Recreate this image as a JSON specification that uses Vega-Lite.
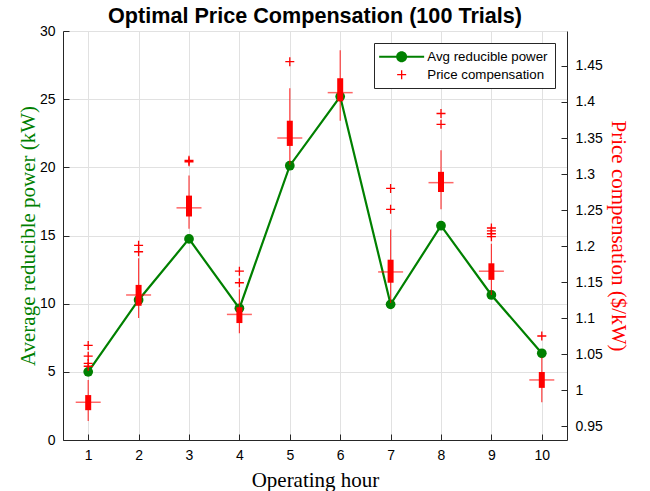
{
  "$schema": "https://vega.github.io/schema/vega-lite/v6.json",
  "width": 504,
  "height": 409,
  "autosize": {"type": "none"},
  "padding": {"left": 63, "top": 31, "right": 83, "bottom": 51},
  "background": "white",
  "title": {"text": "Optimal Price Compensation (100 Trials)", "font": "Liberation Sans", "fontSize": 21.6, "fontWeight": "bold", "color": "#000000", "offset": -4, "anchor": "middle"},
  "datasets": {
    "power": [
      {"hour": 1, "power": 5.0},
      {"hour": 2, "power": 10.27},
      {"hour": 3, "power": 14.75},
      {"hour": 4, "power": 9.66},
      {"hour": 5, "power": 20.12},
      {"hour": 6, "power": 25.19},
      {"hour": 7, "power": 9.95},
      {"hour": 8, "power": 15.72},
      {"hour": 9, "power": 10.64},
      {"hour": 10, "power": 6.36}
    ],
    "box": [
      {"hour": 1, "wl": 0.957, "q1": 0.972, "med": 0.983, "q3": 0.993, "wh": 1.014},
      {"hour": 2, "wl": 1.100, "q1": 1.117, "med": 1.132, "q3": 1.146, "wh": 1.183},
      {"hour": 3, "wl": 1.224, "q1": 1.241, "med": 1.253, "q3": 1.270, "wh": 1.298},
      {"hour": 4, "wl": 1.079, "q1": 1.093, "med": 1.105, "q3": 1.115, "wh": 1.140},
      {"hour": 5, "wl": 1.313, "q1": 1.339, "med": 1.350, "q3": 1.374, "wh": 1.419},
      {"hour": 6, "wl": 1.374, "q1": 1.401, "med": 1.413, "q3": 1.433, "wh": 1.472},
      {"hour": 7, "wl": 1.121, "q1": 1.149, "med": 1.164, "q3": 1.181, "wh": 1.223},
      {"hour": 8, "wl": 1.251, "q1": 1.275, "med": 1.288, "q3": 1.303, "wh": 1.333},
      {"hour": 9, "wl": 1.132, "q1": 1.153, "med": 1.165, "q3": 1.176, "wh": 1.203},
      {"hour": 10, "wl": 0.983, "q1": 1.003, "med": 1.014, "q3": 1.025, "wh": 1.045}
    ],
    "out": [
      {"hour": 1, "price": 1.033, "series": "Price compensation"},
      {"hour": 1, "price": 1.037, "series": "Price compensation"},
      {"hour": 1, "price": 1.047, "series": "Price compensation"},
      {"hour": 1, "price": 1.062, "series": "Price compensation"},
      {"hour": 2, "price": 1.192, "series": "Price compensation"},
      {"hour": 2, "price": 1.201, "series": "Price compensation"},
      {"hour": 3, "price": 1.317, "series": "Price compensation"},
      {"hour": 3, "price": 1.319, "series": "Price compensation"},
      {"hour": 4, "price": 1.149, "series": "Price compensation"},
      {"hour": 4, "price": 1.165, "series": "Price compensation"},
      {"hour": 5, "price": 1.456, "series": "Price compensation"},
      {"hour": 7, "price": 1.251, "series": "Price compensation"},
      {"hour": 7, "price": 1.280, "series": "Price compensation"},
      {"hour": 8, "price": 1.369, "series": "Price compensation"},
      {"hour": 8, "price": 1.384, "series": "Price compensation"},
      {"hour": 9, "price": 1.213, "series": "Price compensation"},
      {"hour": 9, "price": 1.217, "series": "Price compensation"},
      {"hour": 9, "price": 1.221, "series": "Price compensation"},
      {"hour": 9, "price": 1.225, "series": "Price compensation"},
      {"hour": 10, "price": 1.075, "series": "Price compensation"}
    ]
  },
  "layer": [
    {
      "data": {"name": "power"},
      "layer": [
        {
          "mark": {"type": "line", "color": "#008000", "strokeWidth": 2.2},
          "encoding": {
            "x": {"field": "hour", "type": "quantitative", "scale": {"domain": [0.5, 10.5], "nice": false, "zero": false, "padding": 0},
              "axis": {"values": [1,2,3,4,5,6,7,8,9,10], "format": "d", "title": "Operating hour", "titleFont": "Liberation Serif", "titleFontSize": 21, "titleFontWeight": "normal", "titleColor": "#000000", "titlePadding": 7, "labelFont": "Liberation Sans", "labelFontSize": 14, "labelColor": "#000000", "labelPadding": 14, "tickSize": -6, "tickColor": "#262626", "domainColor": "#262626", "grid": true, "gridColor": "#e1e1e1"}},
            "y": {"field": "power", "type": "quantitative", "scale": {"domain": [0, 30], "nice": false},
              "axis": {"orient": "left", "values": [0,5,10,15,20,25,30], "format": "~g", "title": "Average reducible power (kW)", "titleFont": "Liberation Serif", "titleFontSize": 21, "titleFontWeight": "normal", "titleColor": "#008000", "titlePadding": 1, "labelFont": "Liberation Sans", "labelFontSize": 14, "labelColor": "#000000", "labelPadding": 14, "tickSize": -6, "tickColor": "#262626", "domainColor": "#262626", "grid": true, "gridColor": "#e1e1e1"}}
          }
        },
        {
          "mark": {"type": "point", "filled": true, "shape": "circle", "size": 95, "opacity": 1, "color": "#008000"},
          "encoding": {
            "x": {"field": "hour", "type": "quantitative"},
            "y": {"field": "power", "type": "quantitative"}
          }
        }
      ]
    },
    {
      "layer": [
        {
          "data": {"name": "box"},
          "mark": {"type": "rule", "color": "#ff0000", "strokeWidth": 1.2, "opacity": 0.75},
          "encoding": {
            "x": {"field": "hour", "type": "quantitative"},
            "y": {"field": "wl", "type": "quantitative", "scale": {"domain": [0.9306, 1.4986], "nice": false, "zero": false},
              "axis": {"orient": "right", "values": [0.95,1,1.05,1.1,1.15,1.2,1.25,1.3,1.35,1.4,1.45], "format": "~g", "title": "Price compensation ($/kW)", "titleFont": "Liberation Serif", "titleFontSize": 21, "titleFontWeight": "normal", "titleColor": "#ff0000", "titlePadding": 5, "labelFont": "Liberation Sans", "labelFontSize": 14, "labelColor": "#000000", "labelPadding": 14, "tickSize": -6, "tickColor": "#262626", "domainColor": "#262626", "grid": false}},
            "y2": {"field": "wh"}
          }
        },
        {
          "data": {"name": "box"},
          "mark": {"type": "bar", "color": "#ff0000", "width": 6},
          "encoding": {
            "x": {"field": "hour", "type": "quantitative"},
            "y": {"field": "q1", "type": "quantitative", "axis": {"orient": "right", "values": [0.95,1,1.05,1.1,1.15,1.2,1.25,1.3,1.35,1.4,1.45], "format": "~g", "title": "Price compensation ($/kW)", "titleFont": "Liberation Serif", "titleFontSize": 21, "titleFontWeight": "normal", "titleColor": "#ff0000", "titlePadding": 5, "labelFont": "Liberation Sans", "labelFontSize": 14, "labelColor": "#000000", "labelPadding": 14, "tickSize": -6, "tickColor": "#262626", "domainColor": "#262626", "grid": false}},
            "y2": {"field": "q3"}
          }
        },
        {
          "data": {"name": "box"},
          "mark": {"type": "tick", "orient": "horizontal", "color": "#ff0000", "size": 25, "thickness": 1.5, "opacity": 0.6},
          "encoding": {
            "x": {"field": "hour", "type": "quantitative"},
            "y": {"field": "med", "type": "quantitative", "axis": {"orient": "right", "values": [0.95,1,1.05,1.1,1.15,1.2,1.25,1.3,1.35,1.4,1.45], "format": "~g", "title": "Price compensation ($/kW)", "titleFont": "Liberation Serif", "titleFontSize": 21, "titleFontWeight": "normal", "titleColor": "#ff0000", "titlePadding": 5, "labelFont": "Liberation Sans", "labelFontSize": 14, "labelColor": "#000000", "labelPadding": 14, "tickSize": -6, "tickColor": "#262626", "domainColor": "#262626", "grid": false}}
          }
        },
        {
          "data": {"name": "out"},
          "mark": {"type": "point", "size": 100, "strokeWidth": 0, "opacity": 1, "filled": true},
          "encoding": {
            "x": {"field": "hour", "type": "quantitative"},
            "y": {"field": "price", "type": "quantitative", "axis": {"orient": "right", "values": [0.95,1,1.05,1.1,1.15,1.2,1.25,1.3,1.35,1.4,1.45], "format": "~g", "title": "Price compensation ($/kW)", "titleFont": "Liberation Serif", "titleFontSize": 21, "titleFontWeight": "normal", "titleColor": "#ff0000", "titlePadding": 5, "labelFont": "Liberation Sans", "labelFontSize": 14, "labelColor": "#000000", "labelPadding": 14, "tickSize": -6, "tickColor": "#262626", "domainColor": "#262626", "grid": false}},
            "color": {"field": "series", "type": "nominal",
              "scale": {"domain": ["Avg reducible power", "Price compensation"], "range": ["#008000", "#ff0000"]},
              "legend": {"title": null, "orient": "top-right", "offset": 12, "strokeColor": "#262626", "fillColor": "white", "padding": 7,
                "labelFont": "Liberation Sans", "labelFontSize": 13.3, "labelColor": "#000000", "symbolSize": 100, "symbolOffset": 14, "labelOffset": 19, "rowPadding": 4, "symbolStrokeWidth": 0, "symbolOpacity": 1}},
            "shape": {"field": "series", "type": "nominal",
              "scale": {"domain": ["Avg reducible power", "Price compensation"], "range": ["M-4.5,-0.2L4.5,-0.2L4.5,0.2L-4.5,0.2Z M-1.1,0A1.1,1.1,0,1,1,1.1,0A1.1,1.1,0,1,1,-1.1,0Z", "M-0.9,-0.13L-0.13,-0.13L-0.13,-0.9L0.13,-0.9L0.13,-0.13L0.9,-0.13L0.9,0.13L0.13,0.13L0.13,0.9L-0.13,0.9L-0.13,0.13L-0.9,0.13Z"]},
              "legend": {"title": null, "orient": "top-right", "offset": 12, "strokeColor": "#262626", "fillColor": "white", "padding": 7,
                "labelFont": "Liberation Sans", "labelFontSize": 13.3, "labelColor": "#000000", "symbolSize": 100, "symbolOffset": 14, "labelOffset": 19, "rowPadding": 4, "symbolStrokeWidth": 0, "symbolOpacity": 1}}
          }
        }
      ]
    }
  ],
  "resolve": {"scale": {"y": "independent"}},
  "config": {"view": {"stroke": null}}
}
